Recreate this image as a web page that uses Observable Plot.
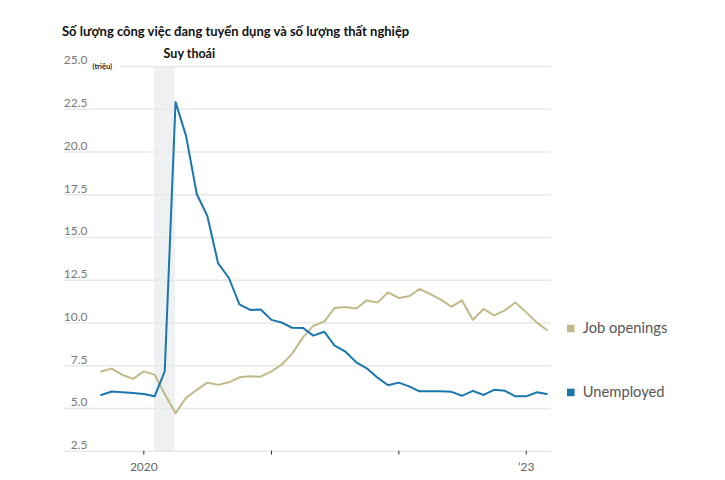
<!DOCTYPE html>
<html>
<head>
<meta charset="utf-8">
<script src="https://cdn.jsdelivr.net/npm/d3@7"></script>
<script src="https://cdn.jsdelivr.net/npm/@observablehq/plot@0.6"></script>
<style>
  html, body { margin: 0; padding: 0; background: #fff; }
  #wrap { position: relative; width: 725px; height: 480px; font-family: Lato, "Noto Sans", sans-serif; }
  #title { position: absolute; left: 62px; top: 23px; font-size: 13px; font-weight: 700; color: #111; white-space: nowrap; line-height: 16px; }
  #chart { position: absolute; left: 0; top: 40px; }
</style>
</head>
<body>
<div id="wrap">
  <div id="title">Số lượng công việc đang tuyển dụng và số lượng thất nghiệp</div>
  <div id="chart"></div>
</div>
<script>
const months = [
  "2019-09","2019-10","2019-11","2019-12",
  "2020-01","2020-02","2020-03","2020-04","2020-05","2020-06","2020-07","2020-08","2020-09","2020-10","2020-11","2020-12",
  "2021-01","2021-02","2021-03","2021-04","2021-05","2021-06","2021-07","2021-08","2021-09","2021-10","2021-11","2021-12",
  "2022-01","2022-02","2022-03","2022-04","2022-05","2022-06","2022-07","2022-08","2022-09","2022-10","2022-11","2022-12",
  "2023-01","2023-02","2023-03"
];
const jobOpenings = [
  7.16, 7.33, 6.96, 6.73,
  7.17, 6.98, 5.85, 4.72, 5.62, 6.09, 6.51, 6.38, 6.53, 6.82, 6.88, 6.86,
  7.17, 7.60, 8.19, 9.16, 9.84, 10.08, 10.88, 10.93, 10.85, 11.32, 11.20, 11.79,
  11.46, 11.58, 11.99, 11.69, 11.36, 10.95, 11.32, 10.19, 10.82, 10.44, 10.74, 11.20,
  10.62, 10.02, 9.59
];
const unemployed = [
  5.79, 5.99, 5.95, 5.91,
  5.85, 5.71, 7.17, 22.93, 20.94, 17.53, 16.27, 13.48, 12.63, 11.09, 10.76, 10.79,
  10.18, 10.01, 9.72, 9.71, 9.26, 9.49, 8.67, 8.32, 7.70, 7.35, 6.80, 6.36,
  6.51, 6.28, 6.00, 6.00, 6.00, 5.97, 5.74, 6.03, 5.79, 6.09, 6.03, 5.71,
  5.71, 5.95, 5.85
];
const seriesNames = ["Job openings", "Unemployed"];
const seriesColors = ["#c2b98b", "#1a77ad"];
const yTicks = [2.5, 5, 7.5, 10, 12.5, 15, 17.5, 20, 22.5, 25];
const xTicks = ["2020-01-01", "2021-01-01", "2022-01-01", "2023-01-01"];
const xTickLabels = ["2020", "", "", "’23"];
const recession = {start: "2020-02-01", end: "2020-04-01", label: "Suy thoái"};
const unitLabel = "(triệu)";

const parse = d3.utcParse("%Y-%m");
const rows = [];
months.forEach((m, i) => {
  rows.push({date: parse(m), value: jobOpenings[i], series: seriesNames[0]});
  rows.push({date: parse(m), value: unemployed[i], series: seriesNames[1]});
});
const last = seriesNames.map((s, k) => ({
  date: parse(months[months.length - 1]),
  value: [jobOpenings, unemployed][k][months.length - 1],
  series: s
}));
const tickDates = xTicks.map(d => new Date(d));
const tickLabelMap = new Map(tickDates.map((d, i) => [+d, xTickLabels[i]]));

const font = "Lato, 'Noto Sans', sans-serif";
const chart = Plot.plot({
  width: 725,
  height: 440,
  marginLeft: 64,
  marginRight: 174,
  marginTop: 26,
  marginBottom: 29,
  style: {fontFamily: font, background: "transparent"},
  x: {type: "utc", domain: [tickDates[0], tickDates[3]], range: [143.3, 525.7], axis: null},
  y: {domain: [2.5, 25], range: [410.7, 26], axis: null},
  color: {domain: seriesNames, range: seriesColors},
  marks: [
    Plot.rect([recession], {
      x1: d => new Date(d.start), x2: d => new Date(d.end),
      y1: 2.5, y2: 25, fill: "#eff0f2"
    }),
    Plot.ruleY(yTicks.filter(v => v !== 25), {stroke: "#e8e8e8", strokeWidth: 1.6}),
    Plot.ruleY([{y: 25, x1: new Date("2019-10-26"), x2: new Date("2023-03-14")}], {
      y: "y", x1: "x1", x2: "x2", stroke: "#e8e8e8", strokeWidth: 1.6
    }),
    Plot.ruleX(tickDates, {x: d => d, y1: 2.5, y2: 2.27, stroke: "#333", strokeWidth: 1}),
    Plot.text(tickDates, {
      x: d => d, y: 2.5, text: d => tickLabelMap.get(+d), dy: 16,
      fontSize: 12, fill: "#666"
    }),
    Plot.text(yTicks, {
      y: d => d, text: d => d.toFixed(1), frameAnchor: "left", dx: 23, dy: -6,
      textAnchor: "end", fontSize: 12, fill: "#777"
    }),
    Plot.text([unitLabel], {
      y: 25, frameAnchor: "left", dx: 28, text: d => d, textAnchor: "start",
      fontSize: 7.5, fontWeight: 700, fill: "#222"
    }),
    Plot.text([recession], {
      x: d => new Date(d.start), y: 25, text: d => d.label, dx: 9, dy: -13,
      textAnchor: "start", fontSize: 12.5, fontWeight: 700, fill: "#111"
    }),
    Plot.line(rows, {x: "date", y: "value", stroke: "series", z: "series", strokeWidth: 2}),
    Plot.dot(last, {
      x: "date", y: "value", fill: "series", symbol: "square", r: 4.3, dx: 24, dy: -1.5
    }),
    Plot.text(last, {
      x: "date", y: "value", text: "series", dx: 36, dy: -2, textAnchor: "start",
      fontSize: 14.7, fill: "#555"
    })
  ]
});
document.getElementById("chart").appendChild(chart);
</script>
</body>
</html>
